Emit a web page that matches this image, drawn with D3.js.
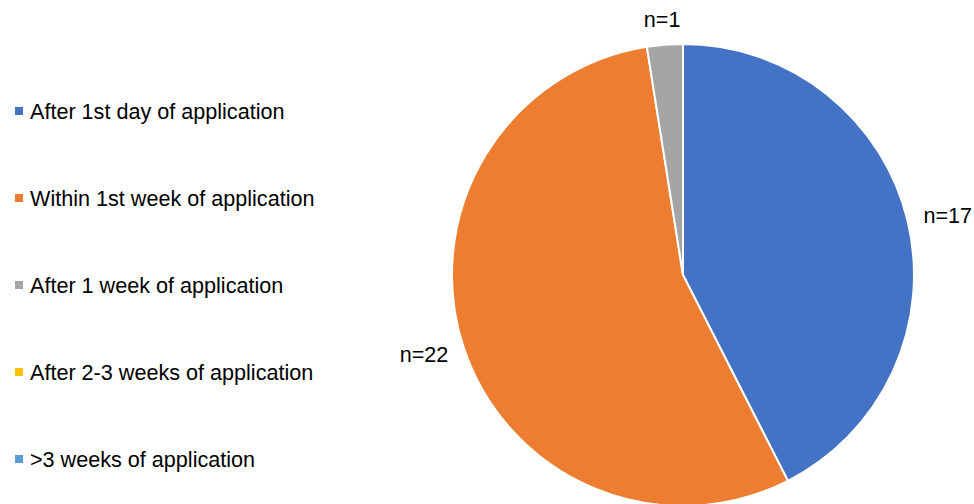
<!DOCTYPE html>
<html>
<head>
<meta charset="utf-8">
<script src="https://cdn.jsdelivr.net/npm/d3@7"></script>
<style>
  body { margin: 0; background: #fff; }
  text { font-family: "Liberation Sans", Arial, sans-serif; fill: #000; }
</style>
</head>
<body>
<script>
var categories = ["After 1st day of application", "Within 1st week of application",
                  "After 1 week of application", "After 2-3 weeks of application",
                  ">3 weeks of application"];
var counts = [17, 22, 1, 0, 0];
var colors = ["#4472C4", "#ED7D31", "#A5A5A5", "#FFC000", "#5B9BD5"];

var width = 974, height = 504;
var cx = 683, cy = 275, radius = 231;
var fontSize = 21.6;

var svg = d3.select("body").append("svg")
    .attr("width", width)
    .attr("height", height);

var color = d3.scaleOrdinal().domain(categories).range(colors);

var data = categories.map(function(c, i) { return { name: c, value: counts[i] }; });

var pie = d3.pie()
    .sort(null)
    .value(function(d) { return d.value; });

var arc = d3.arc().innerRadius(0).outerRadius(radius);

var g = svg.append("g")
    .attr("transform", "translate(" + cx + "," + cy + ")");

var arcs = pie(data);

g.selectAll("path")
    .data(arcs.filter(function(d) { return d.value > 0; }))
  .enter().append("path")
    .attr("d", arc)
    .style("fill", function(d) { return color(d.data.name); })
    .style("stroke", "#fff")
    .style("stroke-width", 2);

// labels outside the end of each slice
var labelR = radius + 17;
g.selectAll(".lbl")
    .data(arcs.filter(function(d) { return d.value > 0; }))
  .enter().append("text")
    .attr("class", "lbl")
    .style("font-size", fontSize + "px")
    .attr("text-anchor", "middle")
    .attr("dy", "0.35em")
    .text(function(d) { return "n=" + d.value; })
    .each(function(d) {
      var a = (d.startAngle + d.endAngle) / 2;
      var bb = this.getBBox();
      var x = Math.sin(a) * (labelR + bb.width / 2);
      var y = -Math.cos(a) * (labelR + bb.height / 2 - 4);
      d3.select(this).attr("x", x).attr("y", y);
    });

// legend
var legend = svg.selectAll(".legend")
    .data(categories)
  .enter().append("g")
    .attr("class", "legend")
    .attr("transform", function(d, i) { return "translate(15," + (111 + i * 87) + ")"; });

legend.append("rect")
    .attr("x", 0)
    .attr("y", -4)
    .attr("width", 8)
    .attr("height", 8)
    .style("fill", function(d) { return color(d); });

legend.append("text")
    .attr("x", 15)
    .attr("y", 0)
    .attr("dy", "0.35em")
    .style("font-size", fontSize + "px")
    .text(function(d) { return d; });
</script>
</body>
</html>
